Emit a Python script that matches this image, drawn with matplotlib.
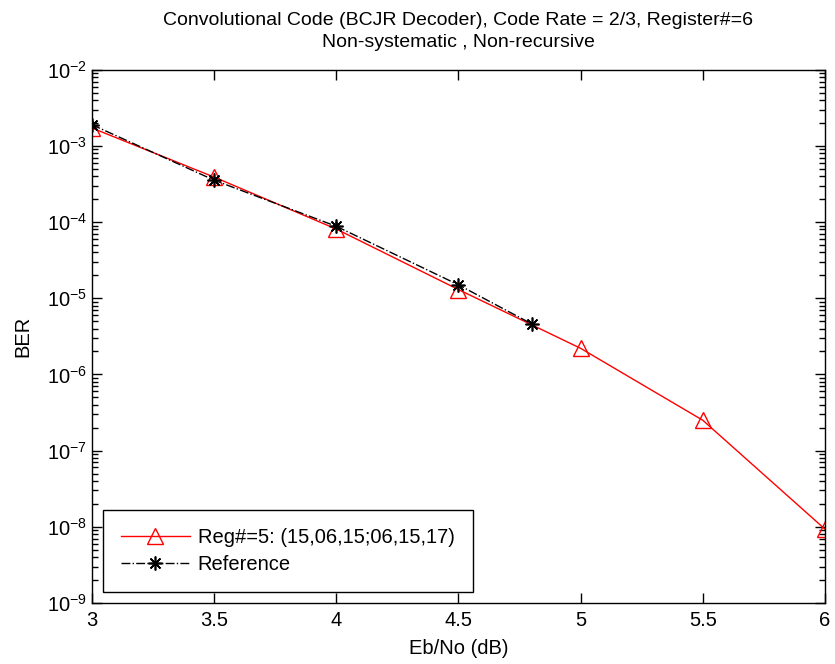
import matplotlib
matplotlib.use('Agg')
import matplotlib.pyplot as plt
from matplotlib.ticker import LogLocator, NullFormatter

plt.rcParams['font.family'] = ['Liberation Sans', 'DejaVu Sans']

# BER curves
ebno_reg5 = [3.0, 3.5, 4.0, 4.5, 5.0, 5.5, 6.0]
ber_reg5 = [1.72e-3, 3.9e-4, 8.1e-5, 1.3e-5, 2.2e-6, 2.5e-7, 9.3e-9]

ebno_ref = [3.0, 3.5, 4.0, 4.5, 4.8]
ber_ref = [1.9e-3, 3.55e-4, 8.8e-5, 1.5e-5, 4.6e-6]

xticks = [3, 3.5, 4, 4.5, 5, 5.5, 6]
xtick_labels = ['3', '3.5', '4', '4.5', '5', '5.5', '6']

fs = 14.5

fig = plt.figure(figsize=(8.35, 6.64), dpi=100)
ax = fig.add_axes([0.110, 0.092, 0.878, 0.803])

ax.semilogy(ebno_reg5, ber_reg5, '-', color='red', lw=1, marker='^',
            markersize=11, markerfacecolor='none', markeredgecolor='red',
            label='Reg#=5: (15,06,15;06,15,17)')
ax.semilogy(ebno_ref, ber_ref, '-.', color='black', lw=1, marker=(8, 2, 0),
            markersize=10, markeredgewidth=1.2, label='Reference')

ax.set_xlim(3, 6)
ax.set_ylim(1e-9, 1e-2)
ax.set_xticks(xticks)
ax.set_xticklabels(xtick_labels)
ax.yaxis.set_major_locator(LogLocator(base=10, numticks=20))
ax.yaxis.set_minor_locator(LogLocator(base=10, subs=range(2, 10), numticks=20))
ax.yaxis.set_minor_formatter(NullFormatter())

ax.tick_params(which='both', direction='in', top=True, right=True,
               labelsize=fs, width=1)
ax.tick_params(which='major', length=7)
ax.tick_params(which='minor', length=4)
ax.tick_params(axis='x', pad=6)
for s in ax.spines.values():
    s.set_linewidth(1)

ax.set_xlabel('Eb/No (dB)', fontsize=fs, labelpad=6)
ax.set_ylabel('BER', fontsize=fs, labelpad=10)
ax.set_title('Convolutional Code (BCJR Decoder), Code Rate = 2/3, Register#=6\n'
             'Non-systematic , Non-recursive', fontsize=14,
             linespacing=1.4, pad=16)

leg = ax.legend(loc='lower left', fontsize=fs, fancybox=False, framealpha=1,
                edgecolor='black', borderaxespad=0.55, handlelength=3.4,
                handletextpad=0.4, labelspacing=0.4, borderpad=0.9)
leg.get_frame().set_linewidth(1)

fig.savefig('out.png', dpi=100)
